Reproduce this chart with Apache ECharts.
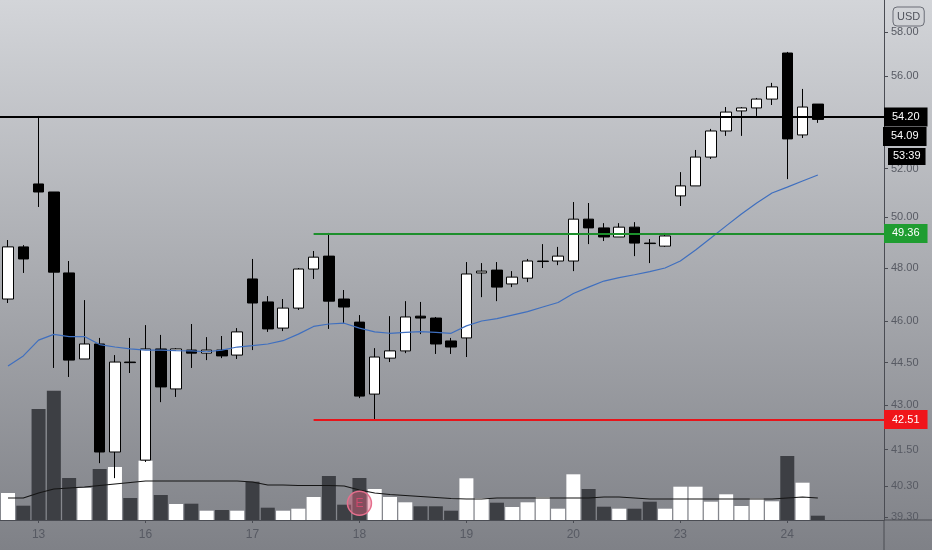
<!DOCTYPE html>
<html>
<head>
<meta charset="utf-8">
<script src="https://cdn.jsdelivr.net/npm/echarts@6/dist/echarts.min.js"></script>
<style>
html,body{margin:0;padding:0;}
#c{width:932px;height:550px;}
</style>
</head>
<body>
<div id="c"></div>
<script>
// ---- data (hourly bars) ----
const open  = [46.83,48.83,51.36,51.03,47.82,44.63,45.17,41.42,44.52,41.15,44.99,43.57,44.95,44.84,44.95,44.77,47.59,46.72,45.75,46.49,47.97,48.47,46.83,45.97,43.39,44.66,44.92,46.19,46.12,45.28,45.39,47.82,47.93,47.40,47.62,48.26,48.28,48.28,49.93,49.58,49.22,49.61,48.98,48.86,50.87,51.28,52.48,53.59,54.46,54.59,54.98,57.05,53.42,54.76];
const close = [48.83,48.36,51.03,47.85,44.59,45.17,41.42,44.52,44.50,44.99,43.64,44.99,44.84,44.95,44.74,45.61,46.68,45.72,46.49,47.97,48.43,46.75,46.53,43.32,44.70,44.92,46.16,46.12,45.17,45.06,47.78,47.89,47.28,47.66,48.28,48.28,48.47,49.93,49.58,49.22,49.61,48.98,48.96,49.26,51.28,52.48,53.59,54.41,54.59,54.98,55.52,53.25,54.63,54.09];
const low   = [46.68,47.82,50.42,44.31,43.99,44.63,41.05,40.56,44.13,41.09,43.11,43.29,44.31,44.59,44.66,44.63,44.95,45.61,45.64,46.42,47.59,45.72,45.94,43.25,42.53,44.52,44.84,45.53,44.81,44.81,44.70,46.90,46.75,47.28,47.47,48.01,48.12,47.89,48.94,49.06,49.22,48.47,48.20,48.83,50.46,51.28,52.40,53.38,53.38,54.24,54.72,51.56,53.29,53.94];
const high  = [49.10,48.90,54.24,51.03,48.28,46.79,45.39,44.77,45.39,45.86,45.50,45.02,45.90,45.42,45.46,45.75,48.36,46.94,46.83,48.01,48.67,49.38,47.17,46.23,45.02,46.19,46.75,46.72,46.16,45.39,48.24,48.20,48.24,47.89,48.36,48.94,48.83,50.62,50.58,49.77,49.77,49.81,49.14,49.38,51.85,52.78,53.68,54.63,54.63,55.03,55.70,57.10,55.43,54.76];
const volume = [270,143,1110,1293,420,320,510,530,220,593,250,160,163,93,100,93,383,123,93,113,230,440,153,420,310,230,177,137,137,93,417,220,173,130,177,230,113,457,310,133,113,113,183,113,333,333,183,257,140,217,187,640,373,43];
const volumeMA = [220,220,270,310,320,330,345,360,375,390,390,390,390,390,390,390,380,350,350,345,345,345,340,300,270,255,245,235,225,215,210,210,220,220,220,220,220,220,220,230,230,220,210,210,210,210,210,210,210,210,210,220,230,220];
const priceMA = [44.38,44.74,45.31,45.52,45.44,45.44,45.15,45.06,44.99,44.95,44.95,44.93,44.92,44.89,44.95,45.06,45.11,45.17,45.29,45.53,45.81,45.90,45.93,45.75,45.61,45.56,45.59,45.62,45.59,45.56,45.83,46.01,46.10,46.23,46.36,46.53,46.70,47.04,47.28,47.51,47.64,47.75,47.87,48.01,48.28,48.71,49.18,49.66,50.14,50.58,50.99,51.23,51.48,51.73];
const dayTickIdx = [2, 9, 16, 23, 30, 37, 44, 51];
const dayTickLabels = ['13', '16', '17', '18', '19', '20', '23', '24'];
const priceTicks = [58, 56, 52, 50, 48, 46, 44.5, 43, 41.5, 40.3, 39.3];
const hLevel = 54.20;
const resistanceLevel = 49.36;
const supportLevel = 42.51;
const levelStartIdx = 20;
const lastPrice = 54.09;
const countdown = '53:39';
const earningsIdx = 23;

// ---- build ----
const X_MIN = -0.524, X_MAX = 57.33;
const Y_MIN = 39.22, Y_MAX = 59.53;
const candleData = open.map((o, i) => [i, o, close[i], low[i], high[i]]);
const volData = volume.map((v, i) => ({
  value: [i, v],
  itemStyle: { color: close[i] >= open[i] ? '#ffffff' : '#3d3f44' }
}));
const volMAData = volumeMA.map((v, i) => [i, v]);
const maData = priceMA.map((v, i) => [i, v]);
const FONT = 'Liberation Sans';
const AXIS_C = '#4a4c53';
const TEXT_C = '#575a63';

const lbl = (bg, val) => ({
  show: true, position: 'end', distance: 0,
  backgroundColor: bg, color: '#fff', fontFamily: FONT, fontSize: 11,
  lineHeight: 13, padding: [3, 8, 3, 8],
  formatter: () => val.toFixed(2)
});

const chart = echarts.init(document.getElementById('c'), null, { renderer: 'canvas' });
chart.setOption({
  animation: false,
  backgroundColor: {
    type: 'linear', x: 0, y: 0, x2: 0, y2: 1,
    colorStops: [
      { offset: 0, color: '#d3d5d9' },
      { offset: 0.5, color: '#a9abb0' },
      { offset: 1, color: '#7f8187' }
    ]
  },
  grid: { left: 0, right: 48, top: 0, bottom: 30 },
  xAxis: {
    type: 'value', min: X_MIN, max: X_MAX,
    splitLine: { show: false },
    axisLine: { show: true, onZero: false, lineStyle: { color: AXIS_C, width: 1 } },
    axisTick: { show: true, length: 3, customValues: dayTickIdx, lineStyle: { color: AXIS_C } },
    axisLabel: {
      customValues: dayTickIdx, margin: 9, color: TEXT_C,
      fontFamily: FONT, fontSize: 12,
      formatter: v => dayTickLabels[dayTickIdx.indexOf(Math.round(v))]
    }
  },
  yAxis: [{
    type: 'log', logBase: 10, position: 'right', min: Y_MIN, max: Y_MAX,
    splitLine: { show: false },
    axisLine: { show: true, onZero: false, lineStyle: { color: AXIS_C, width: 1 } },
    axisTick: { show: true, length: 4, customValues: priceTicks, lineStyle: { color: AXIS_C } },
    axisLabel: {
      customValues: priceTicks, margin: 7, color: TEXT_C,
      fontFamily: FONT, fontSize: 11,
      formatter: v => Number(v).toFixed(2)
    }
  }, {
    type: 'value', min: 0, max: 5200, show: false
  }],
  series: [{
    type: 'bar', name: 'Volume', yAxisIndex: 1, barWidth: 14, data: volData, z: 1,
    markPoint: {
      symbol: 'circle', symbolSize: 24,
      itemStyle: { color: 'rgba(232,100,130,0.42)', borderColor: '#e56f8d', borderWidth: 1.5 },
      label: { show: true, formatter: 'E', color: '#cf4a6e', fontFamily: FONT, fontSize: 12 },
      data: [{ coord: [earningsIdx, 167] }]
    }
  }, {
    type: 'line', name: 'Vol MA', yAxisIndex: 1, data: volMAData, showSymbol: false,
    lineStyle: { color: '#151515', width: 1.2 }, z: 2
  }, {
    type: 'candlestick', name: 'Price', data: candleData, barWidth: 11, z: 3,
    itemStyle: { color: '#ffffff', color0: '#000000', borderColor: '#000000', borderColor0: '#000000', borderWidth: 1 },
    markLine: {
      symbol: ['none', 'none'], silent: true,
      data: [
        { yAxis: hLevel, lineStyle: { color: '#000', width: 2, type: 'solid' }, label: lbl('#000', hLevel) },
        [{ coord: [levelStartIdx, resistanceLevel], lineStyle: { color: '#1d8f2c', width: 2, type: 'solid' }, label: lbl('#1f9d31', resistanceLevel) },
         { coord: [X_MAX, resistanceLevel] }],
        [{ coord: [levelStartIdx, supportLevel], lineStyle: { color: '#e8141a', width: 2, type: 'solid' }, label: lbl('#f0151a', supportLevel) },
         { coord: [X_MAX, supportLevel] }]
      ]
    }
  }, {
    type: 'line', name: 'MA', data: maData, showSymbol: false,
    lineStyle: { color: '#3f6fbf', width: 1.2 }, z: 4
  }]
});

// right-side last price / countdown boxes and pane borders
const yLast = chart.convertToPixel({ yAxisIndex: 0 }, lastPrice);
const xEnd = chart.convertToPixel({ xAxisIndex: 0 }, X_MAX);
const yBottom = chart.convertToPixel({ yAxisIndex: 0 }, Y_MIN);
chart.setOption({
  graphic: [
    { type: 'line', shape: { x1: xEnd, y1: yBottom, x2: 932, y2: yBottom }, style: { stroke: AXIS_C, lineWidth: 1 }, z: 5 },
    { type: 'line', shape: { x1: xEnd, y1: yBottom, x2: xEnd, y2: 550 }, style: { stroke: AXIS_C, lineWidth: 1 }, z: 5 },
    { type: 'text', x: xEnd - 1, y: yLast + 17, z: 10,
      style: { text: lastPrice.toFixed(2), fill: '#fff', backgroundColor: '#000', padding: [3, 8, 3, 8],
        font: '11px "' + FONT + '"', lineHeight: 13, verticalAlign: 'middle' } },
    { type: 'text', x: xEnd + 4, y: yLast + 37, z: 10,
      style: { text: countdown, fill: '#fff', backgroundColor: '#000', padding: [2, 5, 2, 5],
        font: '11px "' + FONT + '"', lineHeight: 13, verticalAlign: 'middle' } },
    { type: 'text', x: xEnd + 9, y: 7, z: 10,
      style: { text: 'USD', fill: '#50535c', borderColor: '#6a6d76', borderWidth: 1, borderRadius: 4,
        padding: [3, 4, 3, 4], font: '11px "' + FONT + '"', lineHeight: 13 } }
  ]
});
</script>
</body>
</html>
